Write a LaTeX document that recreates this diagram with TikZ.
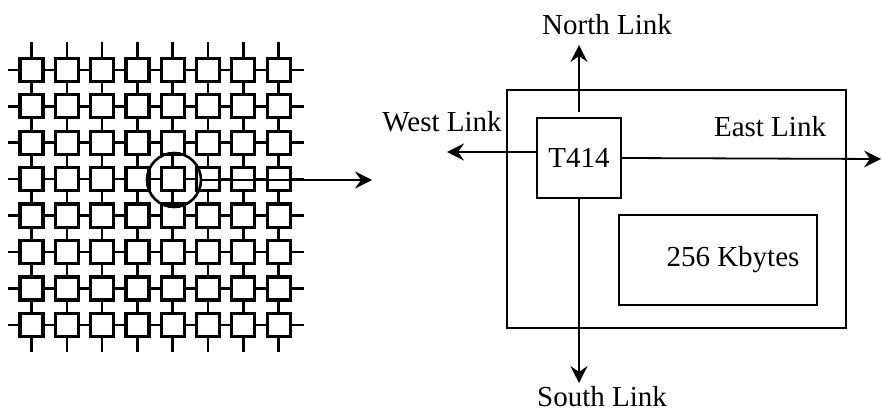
\documentclass[tikz,border=0pt]{standalone}
\usepackage{fontspec}
\setmainfont{Liberation Serif}
\usetikzlibrary{arrows.meta,positioning}

\begin{document}
\begin{tikzpicture}[
    x=0.5pt, y=-0.5pt,
    every node/.style={font=\fontsize{14.5}{17}\selectfont},
    cell/.style={draw, line width=1.6pt, minimum size=11.5pt, inner sep=0pt},
    link/.style={line width=1.3pt},
    box/.style={draw, line width=1pt, inner sep=0pt},
    arr/.style={-{Stealth[length=8.5pt, width=8.5pt, inset=3pt]}, line width=0.9pt}
  ]
    \useasboundingbox (0,0) rectangle (882,411);

    % the 8x8 mesh
    \foreach \i in {0,...,7}
      \foreach \j in {0,...,7}
        \node[cell] (c-\i-\j) at ({31.5+35.3*\i},{70+36.4*\j}) {};

    \foreach \i [evaluate=\i as \ni using int(\i+1)] in {0,...,6}
      \foreach \j in {0,...,7} {
        \draw[link] (c-\i-\j) -- (c-\ni-\j);
        \draw[link] (c-\j-\i) -- (c-\j-\ni);
      }

    \foreach \k in {0,...,7} {
      \draw[link] (c-0-\k.west) -- ++(-10,0);
      \draw[link] (c-7-\k.east) -- ++(12,0);
      \draw[link] (c-\k-0.north) -- ++(0,-15);
      \draw[link] (c-\k-7.south) -- ++(0,14);
    }

    \node[draw, circle, line width=1.3pt, minimum size=27pt, inner sep=0pt] (sel) at (174,180) {};
    \coordinate (zoom) at (372,180);
    \draw[arr] (sel.east) -- (zoom);

    % one node of the mesh
    \node[box, minimum width=169.5pt, minimum height=119pt] (board) at (676,209) {};
    \node[box, minimum width=42pt, minimum height=40pt] (chip) at (579,158) {T414};
    \node[box, minimum width=99pt, minimum height=45pt] (mem) at (718,260) {};
    \node (memtxt) at ([xshift=7.5pt]mem.center) {256 Kbytes};

    \coordinate (nEnd) at (579,45);
    \coordinate (sEnd) at (579,383);
    \coordinate (wEnd) at (447,152);
    \coordinate (eEnd) at (881,159);
    \draw[arr] ([yshift=2.5pt]chip.north) -- (nEnd);
    \draw[arr] (chip.south) -- (sEnd);
    \draw[arr] (chip.west |- wEnd) -- (wEnd);
    \draw[arr] (chip.east) -- (eEnd);

    \node (north) at (607,25) {North Link};
    \node (south) at (602,397) {South Link};
    \node (west) at (442,122) {West Link};
    \node (east) at (770,127) {East Link};
  \end{tikzpicture}
\end{document}
